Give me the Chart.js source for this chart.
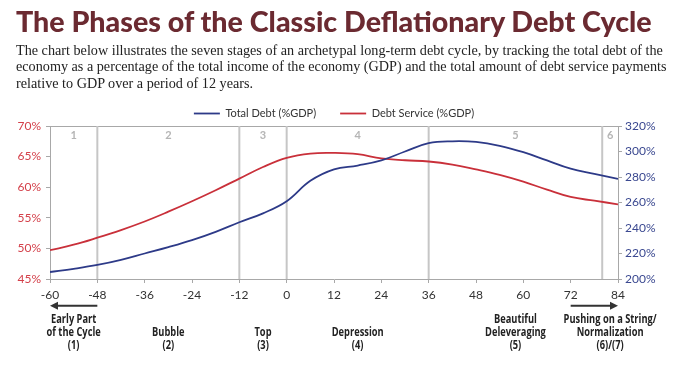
<!DOCTYPE html>
<html><head><meta charset="utf-8">
<script src="https://cdn.jsdelivr.net/npm/chart.js@4/dist/chart.umd.min.js"></script>
<style>
html,body{margin:0;padding:0;background:#fff;width:689px;height:376px;overflow:hidden;}
#wrap{position:relative;width:689px;height:376px;}
#c{position:absolute;left:0;top:0;}
#title{position:absolute;left:16px;top:4px;font-family:'Lato','Open Sans',sans-serif;font-weight:900;color:#6b2a31;font-size:30px;white-space:nowrap;line-height:34px;}
#sub{position:absolute;left:16px;top:42px;font-family:'Liberation Serif',serif;color:#222;font-size:15px;line-height:16.3px;white-space:nowrap;}
</style></head>
<body>
<div id="wrap">
<canvas id="c" width="689" height="376"></canvas>
<div id="title">The Phases of the Classic Deflationary Debt Cycle</div>
<div id="sub"><span id="l1">The chart below illustrates the seven stages of an archetypal long-term debt cycle, by tracking the total debt of the</span><br><span>economy as a percentage of the total income of the economy (GDP) and the total amount of debt service payments</span><br><span>relative to GDP over a period of 12 years.</span></div>
</div>
<script>
// ---- data ----
const months = [-60,-54,-48,-42,-36,-30,-24,-18,-12,-6,0,6,12,18,24,30,36,42,48,54,60,66,72,78,84];
const totalDebt = [205.5,208,211,215,220,225,230.5,237,244.5,251.5,261,277,286,289,293,300,306.5,308,307.5,304.5,299.5,293,286.5,282.5,278.5];
const debtService = [49.7,50.6,51.75,53,54.4,56,57.7,59.5,61.4,63.3,64.8,65.5,65.6,65.4,64.7,64.4,64.2,63.7,62.9,62.0,60.9,59.6,58.4,57.8,57.2];
const xTickValues = [-60,-48,-36,-24,-12,0,12,24,36,48,60,72,84];
const phaseBoundaries = [-48,-12,0,36,80];
const phaseNumbers = ['1','2','3','4','5','6'];
const phaseNames = [
  ['Early Part','of the Cycle','(1)'],
  ['Bubble','(2)'],
  ['Top','(3)'],
  ['Depression','(4)'],
  ['Beautiful','Deleveraging','(5)'],
  ['Pushing on a String/','Normalization','(6)/(7)']
];
const arrowSpans = [[-48,-60],[72,84]];

// fit header text widths
function fitWidth(el, target){
  const w = el.getBoundingClientRect().width;
  const fs = parseFloat(getComputedStyle(el).fontSize);
  el.style.fontSize = (fs * target / w) + 'px';
}
fitWidth(document.getElementById('title'), 636);
(function(){
  const l1 = document.getElementById('l1');
  const sub = document.getElementById('sub');
  const w = l1.getBoundingClientRect().width;
  const fs = parseFloat(getComputedStyle(sub).fontSize);
  sub.style.fontSize = (fs * 647 / w) + 'px';
})();

const BLUE = '#2d3a88', RED = '#c9303a', AXIS = '#a8a8a8';
const baseFont = "'Lato','Open Sans',sans-serif";

const phasePlugin = {
  id: 'phases',
  beforeInit(chart){
    const lg = chart.legend;
    if (lg) {
      const orig = lg.fit;
      lg.fit = function(){ orig.call(this); this.height = 42; };
    }
  },
  beforeDatasetsDraw(chart){
    const {ctx, chartArea:a, scales:{x}} = chart;
    ctx.save();
    // top border
    ctx.strokeStyle = AXIS; ctx.lineWidth = 1;
    ctx.beginPath(); ctx.moveTo(a.left, a.top + 0.5); ctx.lineTo(a.right, a.top + 0.5); ctx.stroke();
    // phase boundaries
    ctx.strokeStyle = '#c6c6c6'; ctx.lineWidth = 2;
    phaseBoundaries.forEach(v => {
      const px = x.getPixelForValue(v);
      ctx.beginPath(); ctx.moveTo(px, a.top); ctx.lineTo(px, a.bottom); ctx.stroke();
    });
    // numerals
    const edges = [x.min, ...phaseBoundaries, x.max];
    ctx.fillStyle = '#b5b5b5';
    ctx.font = "bold 11px " + baseFont;
    ctx.textAlign = 'center'; ctx.textBaseline = 'middle';
    phaseNumbers.forEach((n, i) => {
      const c = x.getPixelForValue((edges[i] + edges[i+1]) / 2);
      ctx.fillText(n, c, a.top + 9);
    });
    ctx.restore();
  },
  afterDraw(chart){
    const {ctx, chartArea:a, scales:{x}} = chart;
    const edges = [x.min, ...phaseBoundaries, x.max];
    ctx.save();
    ctx.fillStyle = '#222';
    ctx.font = "bold 12.5px 'Open Sans','Roboto',sans-serif";
    ctx.textAlign = 'center'; ctx.textBaseline = 'middle';
    const sx = 93 / ctx.measureText('Pushing on a String/').width;
    phaseNames.forEach((lines, i) => {
      const c = x.getPixelForValue((edges[i] + edges[i+1]) / 2);
      const n = lines.length;
      lines.forEach((t, j) => {
        ctx.save();
        ctx.translate(c, a.bottom + 66.7 - (n - 1 - j) * 13.3);
        ctx.scale(sx, 1);
        ctx.fillText(t, 0, 0);
        ctx.restore();
      });
    });
    // arrows
    ctx.strokeStyle = '#333'; ctx.fillStyle = '#333'; ctx.lineWidth = 2;
    const ay = a.bottom + 26.7;
    arrowSpans.forEach(([from, to]) => {
      const x0 = x.getPixelForValue(from), x1 = x.getPixelForValue(to);
      const dir = Math.sign(x1 - x0);
      ctx.beginPath(); ctx.moveTo(x0, ay); ctx.lineTo(x1 - dir * 6, ay); ctx.stroke();
      ctx.beginPath(); ctx.moveTo(x1, ay); ctx.lineTo(x1 - dir * 8, ay - 4); ctx.lineTo(x1 - dir * 8, ay + 4); ctx.closePath(); ctx.fill();
    });
    ctx.restore();
  }
};

new Chart(document.getElementById('c'), {
  type: 'line',
  data: {
    datasets: [
      { label: 'Total Debt (%GDP)', data: months.map((m,i)=>({x:m, y:totalDebt[i]})), yAxisID: 'y1',
        borderColor: BLUE, backgroundColor: BLUE, borderWidth: 1.8, pointRadius: 0, tension: 0.4, fill: false },
      { label: 'Debt Service (%GDP)', data: months.map((m,i)=>({x:m, y:debtService[i]})), yAxisID: 'y',
        borderColor: RED, backgroundColor: RED, borderWidth: 1.8, pointRadius: 0, tension: 0.4, fill: false }
    ]
  },
  options: {
    responsive: false, animation: false,
    layout: { padding: { top: 84, left: 0, right: 0, bottom: 0 } },
    plugins: {
      legend: {
        position: 'top', fullSize: false,
        labels: { usePointStyle: true, pointStyle: 'line', pointStyleWidth: 26, padding: 24,
          color: '#333', font: { size: 11, family: baseFont } }
      },
      tooltip: { enabled: false }
    },
    scales: {
      x: {
        type: 'linear', min: -60, max: 84,
        afterBuildTicks(s){ s.ticks = xTickValues.map(v => ({value: v})); },
        ticks: { color: '#333', font: { size: 12, family: baseFont }, padding: 5, maxRotation: 0 },
        grid: { drawOnChartArea: false, drawTicks: true, tickLength: 4, color: AXIS },
        border: { color: AXIS },
        afterFit(s){ s.height = 97; }
      },
      y: {
        position: 'left', min: 45, max: 70,
        ticks: { stepSize: 5, color: '#d4404a', font: { size: 12, family: baseFont }, padding: 5, callback: v => v + '%' },
        grid: { drawOnChartArea: false, tickLength: 4, color: AXIS },
        border: { color: AXIS },
        afterFit(s){ s.width = 50; }
      },
      y1: {
        position: 'right', min: 200, max: 320,
        ticks: { stepSize: 20, color: '#3a4890', font: { size: 12, family: baseFont }, padding: 3, callback: v => v + '%' },
        grid: { drawOnChartArea: false, tickLength: 4, color: AXIS },
        border: { color: AXIS },
        afterFit(s){ s.width = 71; }
      }
    }
  },
  plugins: [phasePlugin]
});
</script>
</body></html>
